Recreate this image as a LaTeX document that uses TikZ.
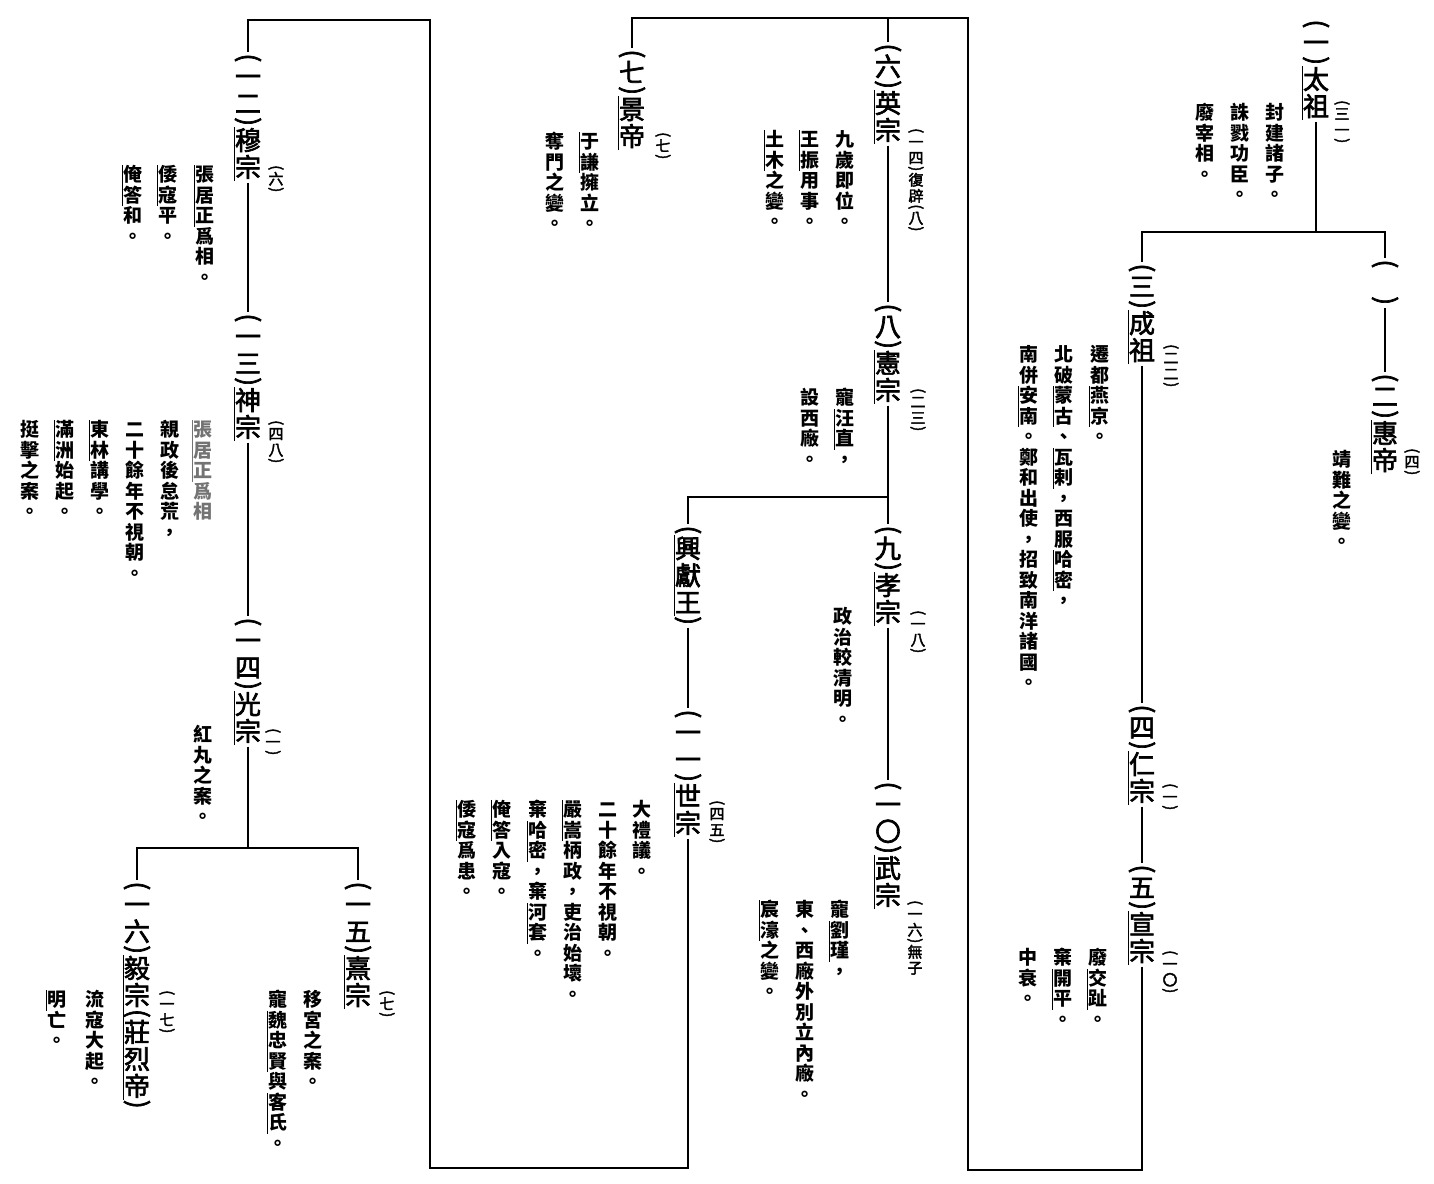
\documentclass[tikz,border=0pt]{standalone}
\usepackage{fontspec}
\usepackage{graphicx}
\setmainfont{Noto Sans CJK TC}
\newfontface\empfont{Noto Sans CJK TC}[FakeBold=2.5]
\newdimen\vsgap
\def\vcgap{2pt}
\makeatletter
\newbox\vc@box
\newbox\vc@rbox
\newif\ifvc@mark
\def\vc@lp{(}\def\vc@rp{)}\def\vc@bar{|}
\newcommand\vcol[1]{\vbox{\offinterlineskip\vc@markfalse\vsgap=\vcgap\relax
  \@tfor\vc@c:=#1\do{\vc@item}}}
\def\vc@item{%
  \ifx\vc@c\vc@bar
    \ifvc@mark\vc@markfalse\else\vc@marktrue\fi
  \else\ifx\vc@c\vc@lp
    \vc@paren{(}%
  \else\ifx\vc@c\vc@rp
    \vc@paren{)}%
  \else
    \vc@char
  \fi\fi\fi}
\def\vc@char{\setbox\vc@box\hbox{\vc@c}\ht\vc@box=.88em\relax\dp\vc@box=.12em\relax\vc@out}
\def\vc@paren#1{\setbox\vc@box\hbox{\rotatebox{-90}{#1}}\vc@out}
\def\vc@out{\ifvc@mark\vc@mkrule\fi
  \hbox to 1em{\ifvc@mark\rlap{\kern-1.5pt\box\vc@rbox}\fi\hss\box\vc@box\hss}\kern\vsgap}
\def\vc@mkrule{\setbox\vc@rbox\hbox{\vrule width .6pt height \ht\vc@box depth \dimexpr\dp\vc@box+\vsgap\relax}%
  \ht\vc@rbox=0pt\relax\dp\vc@rbox=0pt\relax}
\makeatother
\tikzset{
  vgap/.code={\def\vcgap{#1}},
  emperor/.style={inner sep=0pt, outer sep=1.5pt, anchor=north, font=\empfont\fontsize{26}{26}\selectfont, vgap=1pt},
  reign/.style={inner sep=0pt, anchor=north, font=\empfont\fontsize{15}{15}\selectfont, vgap=1pt},
  note/.style={inner sep=0pt, anchor=north, font=\fontsize{19}{19}\selectfont\bfseries, vgap=1.5pt},
  tree/.style={line width=1.3pt}
}

\begin{document}
\begin{tikzpicture}[x=1pt,y=-1pt]
\useasboundingbox (0,0) rectangle (1434,1183);

\node[emperor] (taizu) at (1316,18) {\vcol{(一)|太祖|}};
\node[emperor] (kong) at (1385,258) {\vcol{(　)}};
\node[emperor] (huidi) at (1385,372) {\vcol{(二)|惠帝|}};
\node[emperor] (chengzu) at (1142,262) {\vcol{(三)|成祖|}};
\node[emperor] (renzong) at (1142,703) {\vcol{(四)|仁宗|}};
\node[emperor] (xuanzong) at (1142,863) {\vcol{(五)|宣宗|}};
\node[emperor] (yingzong) at (888,42) {\vcol{(六)|英宗|}};
\node[emperor] (jingdi) at (632,48) {\vcol{(七)|景帝|}};
\node[emperor] (xianzong) at (888,302) {\vcol{(八)|憲宗|}};
\node[emperor] (xiaozong) at (888,524) {\vcol{(九)|孝宗|}};
\node[emperor] (wuzong) at (888,780) {\vcol{(一〇)|武宗|}};
\node[emperor] (xingxian) at (688,524) {\vcol{(|興獻王|)}};
\node[emperor] (shizong) at (688,708) {\vcol{(一一)|世宗|}};
\node[emperor] (muzong) at (248,52) {\vcol{(一二)|穆宗|}};
\node[emperor] (shenzong) at (248,312) {\vcol{(一三)|神宗|}};
\node[emperor] (guangzong) at (248,616) {\vcol{(一四)|光宗|}};
\node[emperor] (xizong) at (358,880) {\vcol{(一五)|熹宗|}};
\node[emperor] (yizong) at (137,880) {\vcol{(一六)|毅宗(莊烈帝|)}};

\node[reign] (taizu-r) at (1342,100) {\vcol{(三一)}};
\node[reign] (huidi-r) at (1412,448) {\vcol{(四)}};
\node[reign] (chengzu-r) at (1171,344) {\vcol{(二二)}};
\node[reign] (renzong-r) at (1170,783) {\vcol{(一)}};
\node[reign] (xuanzong-r) at (1170,950) {\vcol{(一〇)}};
\node[reign] (yingzong-r) at (916,128) {\vcol{(一四)復辟(八)}};
\node[reign] (jingdi-r) at (663,132) {\vcol{(七)}};
\node[reign] (xianzong-r) at (918,388) {\vcol{(二三)}};
\node[reign] (xiaozong-r) at (918,610) {\vcol{(一八)}};
\node[reign] (wuzong-r) at (915,900) {\vcol{(一六)無子}};
\node[reign] (shizong-r) at (717,800) {\vcol{(四五)}};
\node[reign] (muzong-r) at (276,165) {\vcol{(六)}};
\node[reign] (shenzong-r) at (276,420) {\vcol{(四八)}};
\node[reign] (guangzong-r) at (273,728) {\vcol{(一)}};
\node[reign] (xizong-r) at (387,990) {\vcol{(七)}};
\node[reign] (yizong-r) at (167,990) {\vcol{(一七)}};

\node[note] (taizu-a) at (1275,103) {\vcol{封建諸子。}};
\node[note] (taizu-b) at (1240,103) {\vcol{誅戮功臣。}};
\node[note] (taizu-c) at (1205,103) {\vcol{廢宰相。}};
\node[note] (huidi-a) at (1342,450) {\vcol{靖難之變。}};
\node[note] (chengzu-a) at (1100,345) {\vcol{遷都|燕京|。}};
\node[note] (chengzu-b) at (1064,345) {\vcol{北破|蒙古|、|瓦剌|，西服|哈密|，}};
\node[note] (chengzu-c) at (1029,345) {\vcol{南併|安南|。鄭和出使，招致南洋諸國。}};
\node[note] (xuanzong-a) at (1098,948) {\vcol{廢|交趾|。}};
\node[note] (xuanzong-b) at (1063,948) {\vcol{棄|開平|。}};
\node[note] (xuanzong-c) at (1028,948) {\vcol{中衰。}};
\node[note] (yingzong-a) at (845,130) {\vcol{九歲即位。}};
\node[note] (yingzong-b) at (810,130) {\vcol{|王振|用事。}};
\node[note] (yingzong-c) at (775,130) {\vcol{|土木|之變。}};
\node[note] (jingdi-a) at (590,132) {\vcol{|于謙|擁立。}};
\node[note] (jingdi-b) at (555,132) {\vcol{奪門之變。}};
\node[note] (xianzong-a) at (845,388) {\vcol{寵|汪直|，}};
\node[note] (xianzong-b) at (810,388) {\vcol{設西廠。}};
\node[note] (xiaozong-a) at (843,607) {\vcol{政治較清明。}};
\node[note] (wuzong-a) at (840,900) {\vcol{寵|劉瑾|，}};
\node[note] (wuzong-b) at (805,900) {\vcol{東、西廠外別立內廠。}};
\node[note] (wuzong-c) at (770,900) {\vcol{|宸濠|之變。}};
\node[note] (shizong-a) at (642,800) {\vcol{大禮議。}};
\node[note] (shizong-b) at (608,800) {\vcol{二十餘年不視朝。}};
\node[note] (shizong-c) at (573,800) {\vcol{|嚴嵩|柄政，吏治始壞。}};
\node[note] (shizong-d) at (538,800) {\vcol{棄|哈密|，棄|河套|。}};
\node[note] (shizong-e) at (502,800) {\vcol{|俺答|入寇。}};
\node[note] (shizong-f) at (467,800) {\vcol{|倭寇|爲患。}};
\node[note] (muzong-a) at (205,165) {\vcol{|張居正|爲相。}};
\node[note] (muzong-b) at (168,165) {\vcol{|倭寇|平。}};
\node[note] (muzong-c) at (133,165) {\vcol{|俺答|和。}};
\node[note,text=black!55] (shenzong-a) at (203,420) {\vcol{|張居正|爲相}};
\node[note] (shenzong-b) at (170,420) {\vcol{親政後怠荒，}};
\node[note] (shenzong-c) at (135,420) {\vcol{二十餘年不視朝。}};
\node[note] (shenzong-d) at (100,420) {\vcol{|東林|講學。}};
\node[note] (shenzong-e) at (65,420) {\vcol{|滿洲|始起。}};
\node[note] (shenzong-f) at (30,420) {\vcol{挺擊之案。}};
\node[note] (guangzong-a) at (203,725) {\vcol{紅丸之案。}};
\node[note] (xizong-a) at (313,990) {\vcol{移宮之案。}};
\node[note] (xizong-b) at (278,990) {\vcol{寵|魏忠賢|與|客氏|。}};
\node[note] (yizong-a) at (95,990) {\vcol{流寇大起。}};
\node[note] (yizong-b) at (57,990) {\vcol{|明|亡。}};

\coordinate (j1) at (1316,232);
\coordinate (j2) at (888,497);
\coordinate (j3) at (248,848);
\coordinate (t1) at (968,18);
\coordinate (b1) at (968,1170);
\coordinate (t2) at (430,20);
\coordinate (b2) at (430,1168);

\draw[tree] (taizu) -- (j1);
\draw[tree] (chengzu.north) -- (chengzu.north |- j1) -- (kong.north |- j1) -- (kong.north);
\draw[tree] (kong) -- (huidi);
\draw[tree] (chengzu) -- (renzong);
\draw[tree] (renzong) -- (xuanzong);
\draw[tree] (xuanzong.south) |- (b1) -- (t1) -- (jingdi.north |- t1) -- (jingdi.north);
\draw[tree] (yingzong.north) -- (yingzong.north |- t1);
\draw[tree] (yingzong) -- (xianzong);
\draw[tree] (xianzong) -- (xiaozong);
\draw[tree] (xiaozong) -- (wuzong);
\draw[tree] (xingxian.north) -- (xingxian.north |- j2) -- (j2);
\draw[tree] (xingxian) -- (shizong);
\draw[tree] (shizong.south) |- (b2) -- (t2) -- (muzong.north |- t2) -- (muzong.north);
\draw[tree] (muzong) -- (shenzong);
\draw[tree] (shenzong) -- (guangzong);
\draw[tree] (guangzong) -- (j3);
\draw[tree] (yizong.north) -- (yizong.north |- j3) -- (xizong.north |- j3) -- (xizong.north);
\end{tikzpicture}
\end{document}
